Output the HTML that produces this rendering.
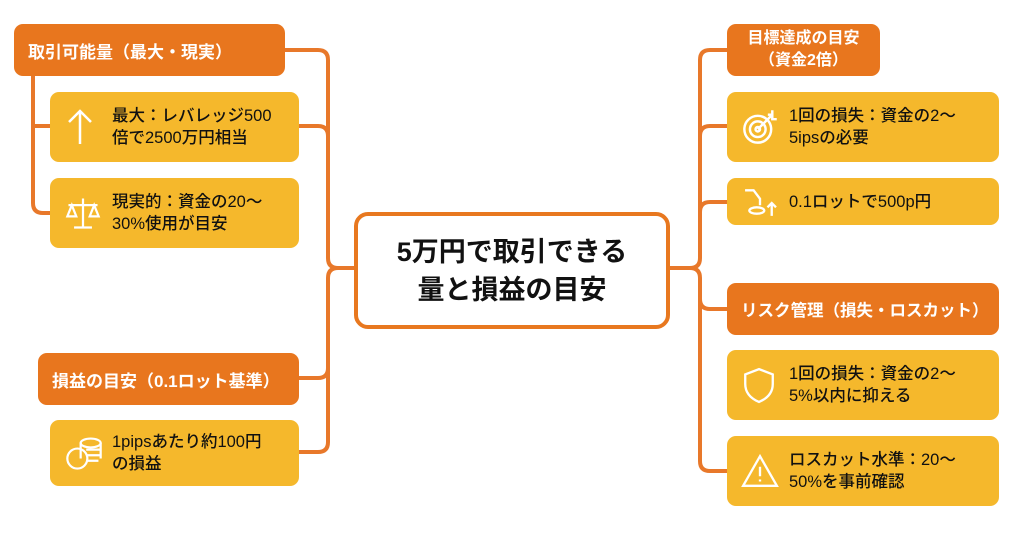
<!DOCTYPE html>
<html><head><meta charset="utf-8"><style>
body{margin:0;width:1024px;height:541px;background:#fff;overflow:hidden;position:relative;font-family:"Liberation Sans","Noto Sans CJK JP",sans-serif;}
.b{position:absolute;box-sizing:border-box;border-radius:9px;display:flex;align-items:center;}
.h{background:#E8761E;color:#fff;font-size:17px;font-weight:bold;padding-left:14px;}
.c{background:#F5B82C;color:#111;font-size:16.5px;font-weight:500;line-height:22px;}
.c .t{position:absolute;left:62px;}
.c svg{position:absolute;left:14px;}
#ctr{position:absolute;left:354px;top:212px;width:316px;height:117px;box-sizing:border-box;border:4px solid #E8781F;border-radius:14px;background:#fff;display:flex;align-items:center;justify-content:center;text-align:center;font-size:27px;font-weight:bold;line-height:38px;color:#111;}
</style></head><body>
<svg width="1024" height="541" style="position:absolute;left:0;top:0" fill="none" stroke="#E8782A" stroke-width="4">
<path d="M285 50 H318 q10 0 10 10 V258 q0 10 10 10 H354"/>
<path d="M299 126 H318 q10 0 10 10"/>
<path d="M354 268 H338 q-10 0 -10 10 V442 q0 10 -10 10 H299"/>
<path d="M299 378 H318 q10 0 10 -10"/>
<path d="M33 76 V203 q0 10 10 10 H50"/>
<path d="M33 126 H50"/>
<path d="M727 50 H710 q-10 0 -10 10 V258 q0 10 -10 10 H670"/>
<path d="M727 126 H710 q-10 0 -10 10"/>
<path d="M727 202 H710 q-10 0 -10 10"/>
<path d="M690 268 q10 0 10 10 V461 q0 10 10 10 H727"/>
<path d="M727 309 H710 q-10 0 -10 -10"/>
</svg>
<div class="b h" style="left:14px;top:24px;width:271px;height:52px;">取引可能量（最大・現実）</div>
<div class="b c" style="left:50px;top:92px;width:249px;height:70px;"><svg width="32" height="38" viewBox="0 0 32 38" stroke="#fff" stroke-width="2.5" fill="none"><path d="M16 36V3M5 14l11-11 11 11"/></svg><div class="t">最大：レバレッジ500<br>倍で2500万円相当</div></div>
<div class="b c" style="left:50px;top:178px;width:249px;height:70px;"><svg width="38" height="38" viewBox="0 0 34 34" stroke="#fff" stroke-width="2" fill="none"><path d="M17 4V30M9 30H25M4 10H30M7 10L3 20H11ZM27 10L23 20H31Z"/></svg><div class="t">現実的：資金の20～<br>30%使用が目安</div></div>
<div class="b h" style="left:38px;top:353px;width:261px;height:52px;">損益の目安（0.1ロット基準）</div>
<div class="b c" style="left:50px;top:420px;width:249px;height:66px;"><svg width="40" height="38" viewBox="0 0 36 34" stroke="#fff" stroke-width="2" fill="none"><ellipse cx="24" cy="8" rx="9" ry="4"/><path d="M15 8v14M33 8v14M20 14h13M20 19h13M20 24h11"/><circle cx="12" cy="22" r="9"/></svg><div class="t">1pipsあたり約100円<br>の損益</div></div>
<div id="ctr">5万円で取引できる<br>量と損益の目安</div>
<div class="b h" style="left:727px;top:24px;width:153px;height:52px;padding:0;justify-content:center;text-align:center;line-height:22px;font-size:16px;">目標達成の目安<br>（資金2倍）</div>
<div class="b c" style="left:727px;top:92px;width:272px;height:70px;"><svg width="38" height="38" viewBox="0 0 34 34" stroke="#fff" stroke-width="2.2" fill="none"><circle cx="15" cy="19" r="12"/><circle cx="15" cy="19" r="7"/><circle cx="15" cy="19" r="2"/><path d="M15 19L28 6M24 6h4v-4M28 6v4h4"/></svg><div class="t">1回の損失：資金の2～<br>5ipsの必要</div></div>
<div class="b c" style="left:727px;top:178px;width:272px;height:47px;"><svg width="38" height="32" viewBox="0 0 34 30" stroke="#fff" stroke-width="2.2" fill="none"><path d="M3 4h8l6 8v6"/><ellipse cx="14" cy="23" rx="7" ry="3"/><path d="M28 28V16M24 20l4-4 4 4"/></svg><div class="t">0.1ロットで500p円</div></div>
<div class="b h" style="left:727px;top:283px;width:272px;height:52px;font-size:16.5px;">リスク管理（損失・ロスカット）</div>
<div class="b c" style="left:727px;top:350px;width:272px;height:70px;"><svg width="36" height="40" viewBox="0 0 34 36" stroke="#fff" stroke-width="2.2" fill="none"><path d="M17 3L30 8V17C30 26 24 31 17 34C10 31 4 26 4 17V8Z"/></svg><div class="t">1回の損失：資金の2～<br>5%以内に抑える</div></div>
<div class="b c" style="left:727px;top:436px;width:272px;height:70px;"><svg width="38" height="36" viewBox="0 0 36 34" stroke="#fff" stroke-width="2.2" fill="none"><path d="M18 3L34 31H2Z"/><path d="M18 13v9M18 25v2"/></svg><div class="t">ロスカット水準：20～<br>50%を事前確認</div></div>
</body></html>
